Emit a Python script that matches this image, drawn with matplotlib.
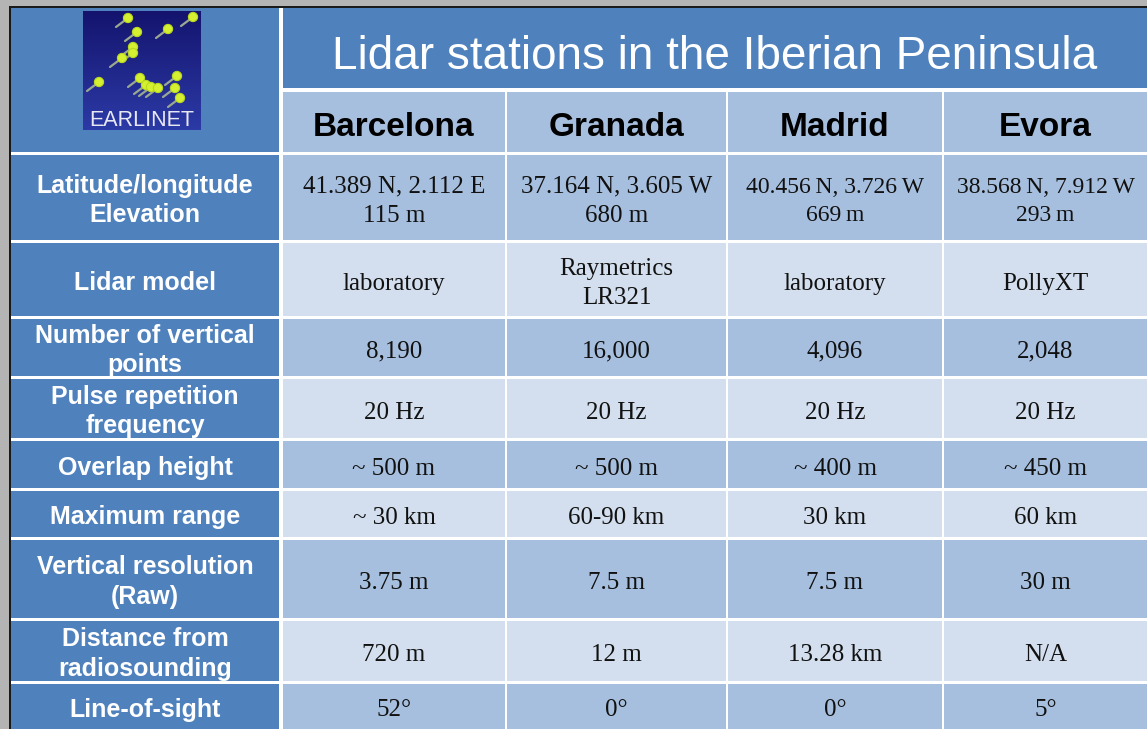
import numpy as np
import matplotlib
matplotlib.use("Agg")
import matplotlib.pyplot as plt
from matplotlib.patches import Rectangle, Circle

# ---------------- data ----------------
title = "Lidar stations in the Iberian Peninsula"
stations = ["Barcelona", "Granada", "Madrid", "Evora"]
row_labels = ["Latitude/longitude\nElevation", "Lidar model", "Number of vertical\npoints",
              "Pulse repetition\nfrequency", "Overlap height", "Maximum range",
              "Vertical resolution\n(Raw)", "Distance from\nradiosounding", "Line-of-sight"]
location = ["41.389 N, 2.112 E\n115 m", "37.164 N, 3.605 W\n680 m",
            "40.456\u2009N, 3.726\u2009W\n669\u2009m", "38.568\u2009N, 7.912\u2009W\n293\u2009m"]
lidar_model = ["laboratory", "Raymetrics\nLR321", "laboratory", "PollyXT"]
vertical_points = ["8,190", "16,000", "4,096", "2,048"]
pulse_rep = ["20 Hz", "20 Hz", "20 Hz", "20 Hz"]
overlap = ["~ 500 m", "~ 500 m", "~ 400 m", "~ 450 m"]
max_range = ["~ 30 km", "60-90 km", "30 km", "60 km"]
vert_res = ["3.75 m", "7.5 m", "7.5 m", "30 m"]
dist_radio = ["720 m", "12 m", "13.28 km", "N/A"]
line_of_sight = ["52°", "0°", "0°", "5°"]
rows = [location, lidar_model, vertical_points, pulse_rep, overlap, max_range,
        vert_res, dist_radio, line_of_sight]

# ---------------- layout (pixels) ----------------
W, H = 1147, 729
col_edges = [(11, 279), (283, 505), (507, 726), (728, 942), (944, 1147)]
title_rows = (8, 88)
header_rows = (92, 152)
row_edges = [(155, 240), (243, 316), (319, 376), (379, 438), (441, 488),
             (491, 537), (540, 618), (621, 681), (684, 729)]

BLUE = "#4F81BD"
DARK = "#A7BFDE"
LIGHT = "#D3DFEE"

fig = plt.figure(figsize=(W / 100, H / 100), dpi=100)
ax = fig.add_axes([0, 0, 1, 1])
ax.set_xlim(0, W)
ax.set_ylim(H, 0)
ax.axis("off")
fig.patch.set_facecolor("white")

# outer frame (gray border + dark line)
ax.add_patch(Rectangle((0, 0), W, H, facecolor="#b4b4b4", edgecolor="none"))
ax.add_patch(Rectangle((9, 6), W, H, facecolor="#1a1a1a", edgecolor="none"))
ax.add_patch(Rectangle((11, 8), W, H, facecolor="white", edgecolor="none"))

def cell(c, r, color):
    x0, x1 = c
    y0, y1 = r
    ax.add_patch(Rectangle((x0, y0), x1 - x0, y1 - y0, facecolor=color, edgecolor="none"))

# logo cell + title
cell(col_edges[0], (8, 152), BLUE)
cell((283, W), title_rows, BLUE)
ax.text((283 + W) / 2, 57, title, ha="center", va="center", color="white",
        fontsize=33, family="Liberation Sans")

# header
for j, name in enumerate(stations):
    c = col_edges[j + 1]
    cell(c, header_rows, DARK)
    ax.text((c[0] + c[1]) / 2, (header_rows[0] + header_rows[1]) / 2 + 5, name,
            ha="center", va="center", color="black", fontsize=24,
            family="Liberation Sans", weight="bold")

# body
for i, (lab, vals) in enumerate(zip(row_labels, rows)):
    r = row_edges[i]
    ymid = (r[0] + r[1]) / 2
    cell(col_edges[0], r, BLUE)
    ax.text((col_edges[0][0] + col_edges[0][1]) / 2, ymid + 3, lab, ha="center", va="center",
            color="white", fontsize=18, family="Liberation Sans", weight="bold",
            linespacing=1.3)
    shade = DARK if i % 2 == 0 else LIGHT
    for j, v in enumerate(vals):
        c = col_edges[j + 1]
        cell(c, r, shade)
        fs = 17 if (i == 0 and j >= 2) else 18
        ax.text((c[0] + c[1]) / 2, ymid + 4, v, ha="center", va="center",
                color="#111111", fontsize=fs, family="Liberation Serif",
                linespacing=1.42)

# ---------------- EARLINET logo ----------------
lx0, lx1, ly0, ly1 = 83, 201, 11, 130
grad = np.linspace(0, 1, 100)[:, None]
cmap = matplotlib.colors.LinearSegmentedColormap.from_list("lg", ["#14146e", "#2c3aa6"])
ax.imshow(grad, cmap=cmap, extent=(lx0, lx1, ly1, ly0), aspect="auto", zorder=2)
dots = [(128, 18), (137, 32), (168, 29), (193, 17), (133, 47), (133, 53), (122, 58),
        (99, 82), (140, 78), (146, 85), (151, 87), (158, 88), (177, 76), (175, 88), (180, 98)]
for (dx, dy) in dots:
    ax.plot([dx, dx - 12], [dy, dy + 9], color="#9aa890", lw=1.6, zorder=3,
            solid_capstyle="round")
    ax.add_patch(Circle((dx, dy), 4.6, facecolor="#d4f030", edgecolor="#b8d820",
                        lw=0.8, zorder=4))
ax.text((lx0 + lx1) / 2, 120, "EARLINET", ha="center", va="center", color="#e8e8f4",
        fontsize=15.5, family="Liberation Sans", zorder=5)

fig.savefig("out.png", dpi=100)
